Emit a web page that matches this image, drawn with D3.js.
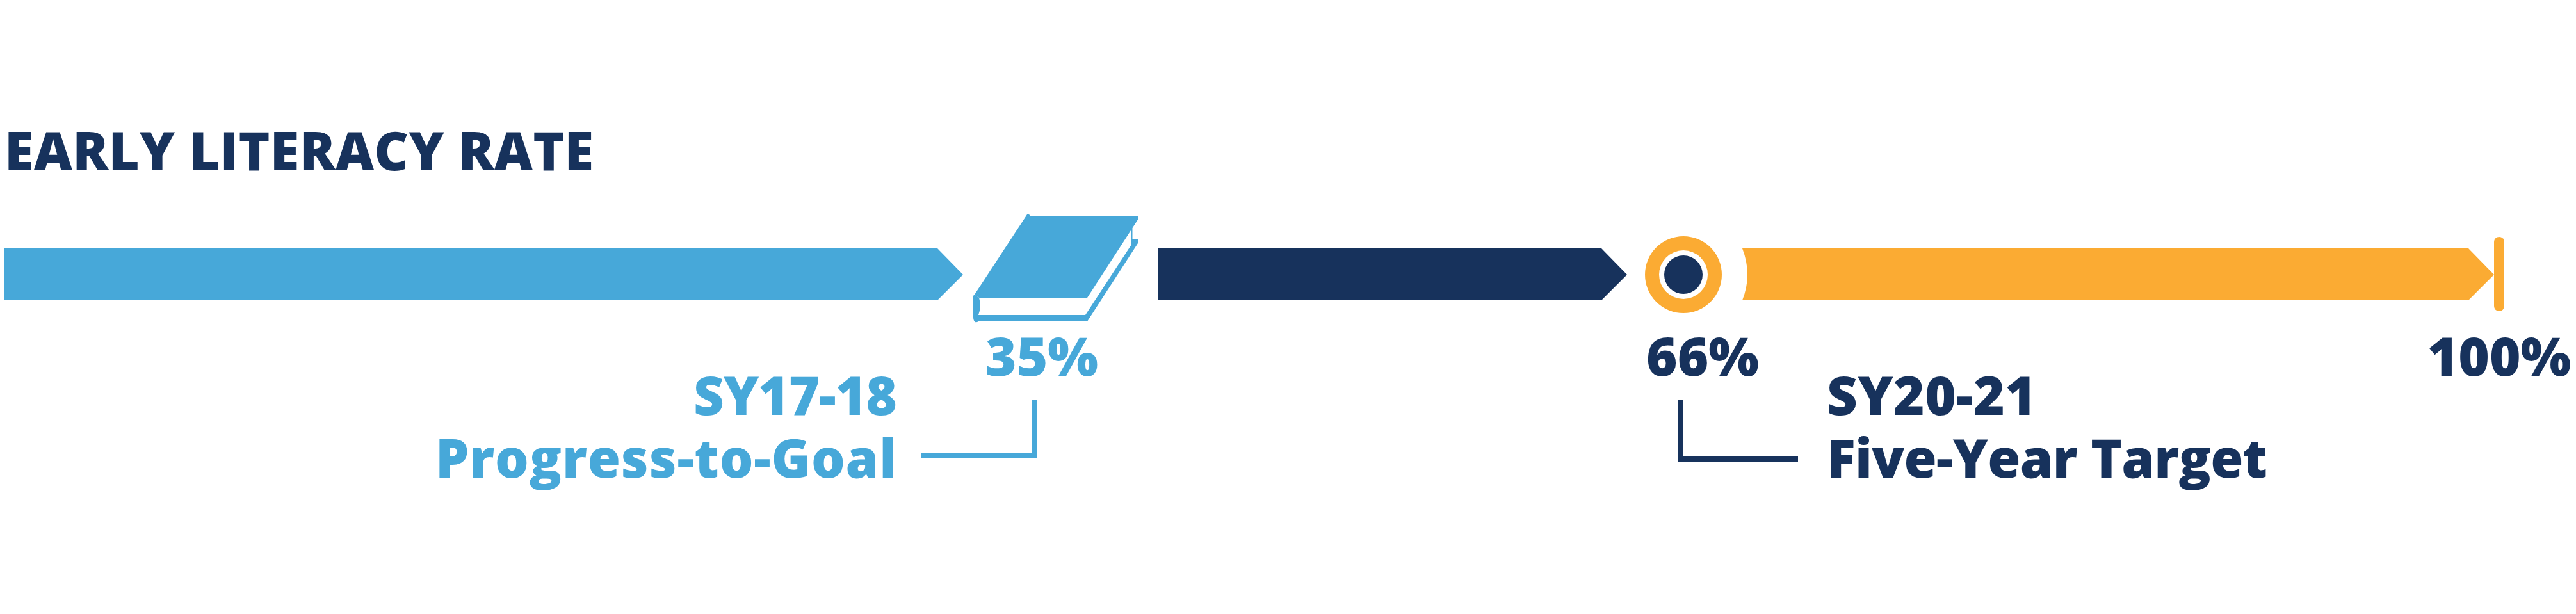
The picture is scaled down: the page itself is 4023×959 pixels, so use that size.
<!DOCTYPE html>
<html><head><meta charset="utf-8">
<style>html,body{margin:0;padding:0;background:#fff}svg{display:block}text{font-family:"Open Sans",sans-serif;font-weight:800}</style>
<script src="https://cdn.jsdelivr.net/npm/d3@7"></script></head>
<body><svg id="c" width="4023" height="959"></svg>
<script>
const title = "EARLY LITERACY RATE";
const milestones = [0, 35, 66, 100];
const milestoneLabels = ["", "35%", "66%", "100%"];
const segmentFrom = [0, 35, 66];
const segmentTo = [35, 66, 100];
const callouts = [
  {value: 35, year: "SY17-18", name: "Progress-to-Goal"},
  {value: 66, year: "SY20-21", name: "Five-Year Target"}
];
const BLUE = "#47a8d9", NAVY = "#17325c", ORANGE = "#fbab33";

const W = 4023, H = 959;
const svg = d3.select("#c").attr("viewBox", [0, 0, W, H]);
// The source graphic spaces its milestones by hand, so the scale is piecewise.
const x = d3.scaleLinear().domain(milestones).range([7, 1627, 2629, 3903]);

const barTop = 388, barBot = 469, barMid = 429, shoulder = 40, fs = 83;

svg.append("text").attr("x", 7).attr("y", 266).attr("font-size", fs).attr("fill", NAVY)
  .attr("textLength", 920).attr("lengthAdjust", "spacing").text(title);

const segStyle = [
  {fill: BLUE,   startOff: 0,   endOff: -123},
  {fill: NAVY,   startOff: 181, endOff: -88},
  {fill: ORANGE, startOff: 92,  endOff: -8}
];
svg.selectAll("path.seg").data(segmentFrom).join("path").attr("class", "seg")
  .attr("fill", (d, i) => segStyle[i].fill)
  .attr("d", (d, i) => {
    const s = x(d) + segStyle[i].startOff, t = x(segmentTo[i]) + segStyle[i].endOff;
    const left = i === 2
      ? `Q${s + 16},${barMid} ${s},${barTop}`
      : `L${s},${barTop}`;
    return `M${s},${barBot}${left}L${t - shoulder},${barTop}L${t},${barMid}L${t - shoulder},${barBot}Z`;
  });

// 100% end cap
svg.append("rect").attr("x", x(100) - 8).attr("y", 370).attr("width", 16).attr("height", 116).attr("rx", 8).attr("fill", ORANGE);

// 66% target ring
const cx = x(66);
[[60, ORANGE], [38, "#fff"], [30, NAVY]].forEach(([r, f]) =>
  svg.append("circle").attr("cx", cx).attr("cy", barMid).attr("r", r).attr("fill", f));

// 35% book icon
const book = svg.append("g").attr("transform", `translate(${x(35)},0)`).attr("fill", BLUE);
book.append("path").attr("d",
  "M-23,335Q-20,334 -18,337L150,337L150,343L71,465L-98,465L-105,460Z");
book.append("path").attr("d",
  "M-98,465Q-94,479 -99,492L68,492L140,382L140,358L141.5,356L141.5,374L150,374L150,380L71,502L-99,502Q-102,504 -104,503Q-107,501 -107,495L-107,462L-105,460Z");

// milestone labels
const labelOff = {35: 0, 66: 30, 100: 0};
svg.selectAll("text.ms").data(milestones.slice(1)).join("text").attr("class", "ms")
  .attr("x", d => x(d) + labelOff[d]).attr("y", 587).attr("text-anchor", "middle")
  .attr("font-size", fs).attr("fill", (d, i) => i === 0 ? BLUE : NAVY)
  .text((d, i) => milestoneLabels[i + 1]);

// callouts
const co = [
  {fill: BLUE, path: "M-12,624V712H-188", sw: 8, yearX: 1083, yearLen: 318, nameX: 680, nameLen: 720},
  {fill: NAVY, path: "M-4.5,624V716.5H179", sw: 9, yearX: 2853, yearLen: 327, nameX: 2853, nameLen: 688}
];
callouts.forEach((c, i) => {
  const s = co[i];
  svg.append("path").attr("transform", `translate(${x(c.value)},0)`).attr("fill", "none")
    .attr("stroke", s.fill).attr("stroke-width", s.sw).attr("d", s.path);
  const t = svg.append("text").attr("font-size", fs).attr("fill", s.fill);
  t.append("tspan").attr("x", s.yearX).attr("y", 648)
    .attr("textLength", s.yearLen).attr("lengthAdjust", "spacing").text(c.year);
  t.append("tspan").attr("x", s.nameX).attr("y", 746)
    .attr("textLength", s.nameLen).attr("lengthAdjust", "spacing").text(c.name);
});
</script></body></html>
